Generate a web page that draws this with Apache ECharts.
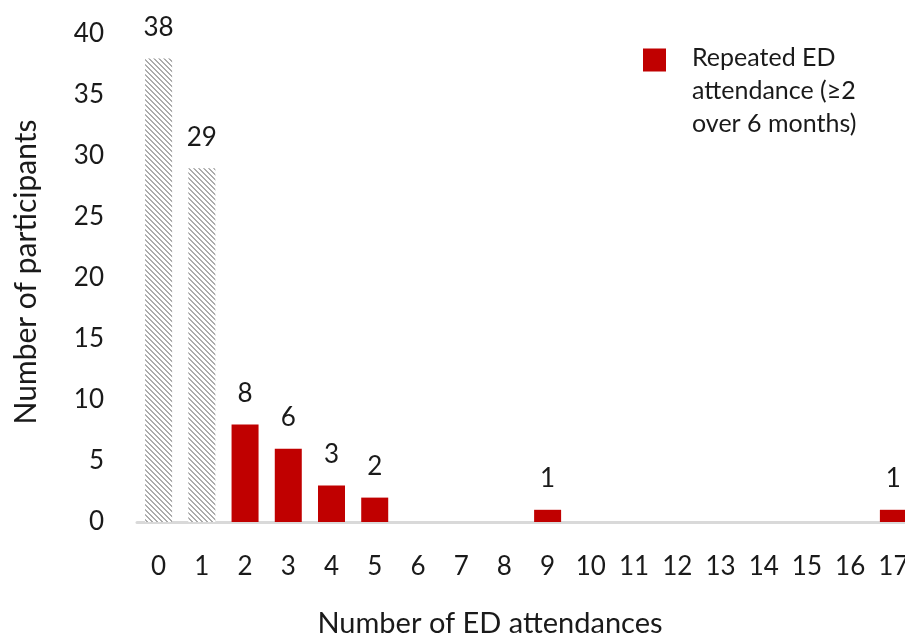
<!DOCTYPE html>
<html>
<head>
<meta charset="utf-8">
<script src="https://cdn.jsdelivr.net/npm/echarts@6/dist/echarts.min.js"></script>
<style>
  html, body { margin: 0; padding: 0; background: #fff; }
  #chart { width: 905px; height: 637px; }
</style>
</head>
<body>
<div id="chart"></div>
<script>
// Number of ED attendances per participant (x) and participant counts (y)
const categories = ['0','1','2','3','4','5','6','7','8','9','10','11','12','13','14','15','16','17'];
// Participants with 0 or 1 attendance (hatched grey bars)
const singleAttendance = [38, 29, '-', '-', '-', '-', '-', '-', '-', '-', '-', '-', '-', '-', '-', '-', '-', '-'];
// Participants with repeated attendance (2 or more over 6 months)
const repeatedAttendance = ['-', '-', 8, 6, 3, 2, 0, 0, 0, 1, 0, 0, 0, 0, 0, 0, 0, 1];
const yTicks = [0, 5, 10, 15, 20, 25, 30, 35, 40];

const legendName = 'Repeated ED\nattendance (\u22652\nover 6 months)';
const FONT = 'Lato, "Liberation Sans", Arial, sans-serif';

// Diagonal hatch tile for the grey bars
function hatchTile() {
  const n = 5;
  const c = document.createElement('canvas');
  c.width = n; c.height = n;
  const g = c.getContext('2d');
  g.fillStyle = '#ffffff';
  g.fillRect(0, 0, n, n);
  g.fillStyle = '#ababab';
  for (let i = 0; i < n; i++) {
    g.fillRect(i, i, 1, 1);
    g.fillRect((i + 1) % n, i, 1, 1);
  }
  return c;
}

const chart = echarts.init(document.getElementById('chart'), null, { renderer: 'canvas' });

const hideZero = p => (p.value === 0 || p.value === '-') ? '' : String(p.value);

chart.setOption({
  animation: false,
  backgroundColor: '#ffffff',
  textStyle: { fontFamily: FONT },
  grid: { left: 137, right: -10, top: 34, bottom: 115, containLabel: false, outerBoundsMode: 'none' },
  legend: {
    left: 643,
    top: 41,
    padding: 0,
    itemWidth: 23,
    itemHeight: 84,
    symbolKeepAspect: false,
    // square swatch sitting at the top of a tall item so the three text lines hang below it
    icon: 'path://M0,0H23V23H0Z M0,83.95H0.05V84H0Z',
    selectedMode: false,
    data: [legendName],
    textStyle: {
      fontFamily: FONT,
      fontSize: 25,
      lineHeight: 33,
      color: '#1a1a1a',
      padding: [0, 0, 0, 21]
    }
  },
  xAxis: {
    type: 'category',
    data: categories,
    name: 'Number of ED attendances',
    nameLocation: 'middle',
    nameGap: 87,
    nameTextStyle: { fontFamily: FONT, fontSize: 29, color: '#1a1a1a', padding: [0, 72, 0, 0] },
    axisTick: { show: false },
    axisLine: { lineStyle: { color: '#d9d9d9', width: 3 } },
    axisLabel: { fontFamily: FONT, fontSize: 26, color: '#1a1a1a', margin: 32, interval: 0 }
  },
  yAxis: {
    type: 'value',
    min: yTicks[0],
    max: yTicks[yTicks.length - 1],
    interval: 5,
    name: 'Number of participants',
    nameLocation: 'middle',
    nameGap: 96,
    nameTextStyle: { fontFamily: FONT, fontSize: 30, color: '#1a1a1a', padding: [0, 0, 0, 12] },
    splitLine: { show: false },
    axisLine: { show: false },
    axisTick: { show: false },
    axisLabel: { fontFamily: FONT, fontSize: 26, color: '#1a1a1a', margin: 33 }
  },
  series: [
    {
      name: 'single',
      type: 'bar',
      stack: 'count',
      barWidth: 27,
      data: singleAttendance,
      itemStyle: { color: { image: hatchTile(), repeat: 'repeat' } },
      label: {
        show: true, position: 'top', distance: 18,
        fontFamily: FONT, fontSize: 26, color: '#1a1a1a', formatter: hideZero
      }
    },
    {
      name: legendName,
      type: 'bar',
      stack: 'count',
      barWidth: 27,
      data: repeatedAttendance,
      itemStyle: { color: '#c00000' },
      label: {
        show: true, position: 'top', distance: 18,
        fontFamily: FONT, fontSize: 26, color: '#1a1a1a', formatter: hideZero
      }
    }
  ]
});
</script>
</body>
</html>
